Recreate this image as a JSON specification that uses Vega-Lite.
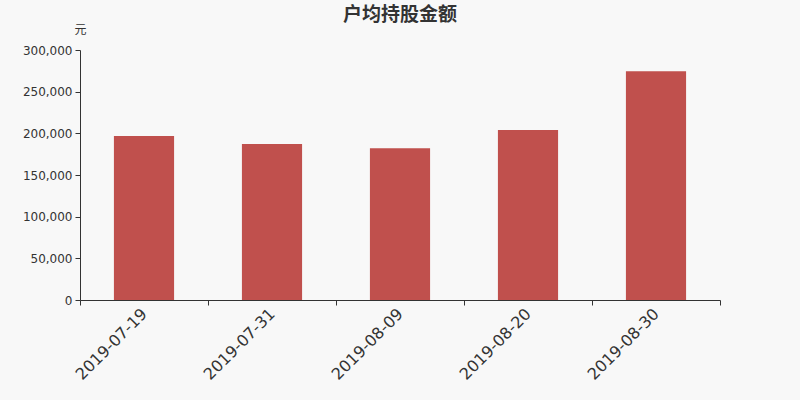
{
  "$schema": "https://vega.github.io/schema/vega-lite/v6.json",
  "width": 640,
  "height": 250,
  "autosize": "none",
  "padding": {"left": 80, "top": 50, "right": 80, "bottom": 100},
  "background": "#f8f8f8",
  "title": {
    "text": "户均持股金额",
    "anchor": "middle",
    "frame": "group",
    "font": "Noto Sans CJK SC",
    "fontSize": 19,
    "fontWeight": "bold",
    "color": "#333333",
    "offset": -2
  },
  "data": {
    "values": [
      {"date": "2019-07-19", "value": 196800},
      {"date": "2019-07-31", "value": 187200},
      {"date": "2019-08-09", "value": 182000},
      {"date": "2019-08-20", "value": 204000},
      {"date": "2019-08-30", "value": 274400}
    ]
  },
  "mark": {"type": "bar", "color": "#c0504d", "width": {"band": 0.47}},
  "encoding": {
    "x": {
      "field": "date",
      "type": "nominal",
      "sort": null,
      "scale": {"paddingInner": 0, "paddingOuter": 0},
      "axis": {
        "title": null,
        "tickBand": "extent",
        "labelAngle": -45,
        "labelAlign": "right",
        "labelBaseline": "middle",
        "labelFont": "DejaVu Sans",
        "labelFontSize": 16,
        "labelColor": "#333333",
        "labelPadding": 6,
        "domainColor": "#333333",
        "tickColor": "#333333",
        "tickSize": 5,
        "grid": false
      }
    },
    "y": {
      "field": "value",
      "type": "quantitative",
      "scale": {"domain": [0, 300000]},
      "axis": {
        "title": "元",
        "titleAngle": 0,
        "titleAlign": "center",
        "titleBaseline": "middle",
        "titleX": 0,
        "titleY": -21,
        "titleFont": "Noto Sans CJK SC",
        "titleFontSize": 12,
        "titleFontWeight": "normal",
        "titleColor": "#333333",
        "values": [0, 50000, 100000, 150000, 200000, 250000, 300000],
        "format": ",d",
        "labelFont": "DejaVu Sans",
        "labelFontSize": 12,
        "labelColor": "#333333",
        "labelPadding": 3,
        "domainColor": "#333333",
        "tickColor": "#333333",
        "tickSize": 5,
        "grid": false
      }
    }
  },
  "config": {"view": {"stroke": null}}
}
